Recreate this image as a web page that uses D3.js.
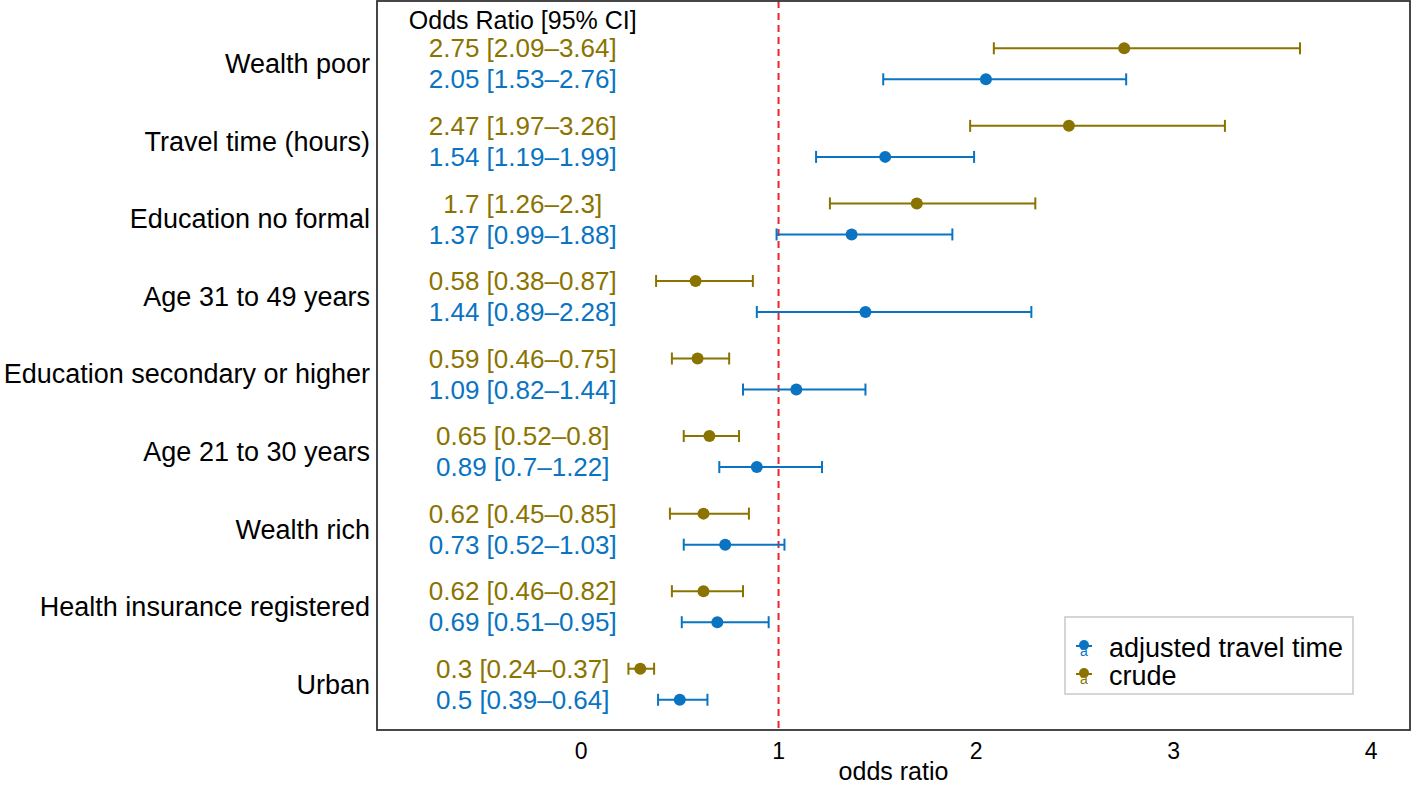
<!DOCTYPE html>
<html><head><meta charset="utf-8">
<script src="https://cdn.jsdelivr.net/npm/d3@7"></script>
<style>body{margin:0;background:#fff}svg{display:block}text{font-family:"Liberation Sans",Arial,sans-serif}</style>
</head><body><svg id="c" width="1420" height="787"></svg>
<script>
const categories = ["Wealth poor","Travel time (hours)","Education no formal","Age 31 to 49 years","Education secondary or higher","Age 21 to 30 years","Wealth rich","Health insurance registered","Urban"];
const crudeOR = [2.75,2.47,1.7,0.58,0.59,0.65,0.62,0.62,0.3];
const crudeLo = [2.09,1.97,1.26,0.38,0.46,0.52,0.45,0.46,0.24];
const crudeHi = [3.64,3.26,2.3,0.87,0.75,0.8,0.85,0.82,0.37];
const adjOR = [2.05,1.54,1.37,1.44,1.09,0.89,0.73,0.69,0.5];
const adjLo = [1.53,1.19,0.99,0.89,0.82,0.7,0.52,0.51,0.39];
const adjHi = [2.76,1.99,1.88,2.28,1.44,1.22,1.03,0.95,0.64];
const crudeLabels = ["2.75 [2.09–3.64]","2.47 [1.97–3.26]","1.7 [1.26–2.3]","0.58 [0.38–0.87]","0.59 [0.46–0.75]","0.65 [0.52–0.8]","0.62 [0.45–0.85]","0.62 [0.46–0.82]","0.3 [0.24–0.37]"];
const adjLabels = ["2.05 [1.53–2.76]","1.54 [1.19–1.99]","1.37 [0.99–1.88]","1.44 [0.89–2.28]","1.09 [0.82–1.44]","0.89 [0.7–1.22]","0.73 [0.52–1.03]","0.69 [0.51–0.95]","0.5 [0.39–0.64]"];
const xTicks = [0,1,2,3,4];
const headerText = "Odds Ratio [95% CI]";
const seriesNames = ["adjusted travel time","crude"];

const COL_CRUDE = "#8B7300", COL_ADJ = "#0A74C2";
const svg = d3.select("#c");
const L = 377, R = 1410, T = 1, B = 730;
const x = d3.scaleLinear().domain([-1.033, 4.197]).range([L, R]);
const y = d3.scaleLinear().domain([-0.81, 8.59]).range([T, B]);
const off = 0.2;
const textX = -0.295;

// dashed reference
svg.append("line").attr("x1", x(1)).attr("x2", x(1)).attr("y1", T).attr("y2", B)
  .attr("stroke", "#e8262b").attr("stroke-width", 2).attr("stroke-dasharray", "7,5");

function series(vals, lo, hi, labels, dy, col) {
  const g = svg.append("g");
  categories.forEach((c, i) => {
    const yy = y(i + dy);
    g.append("line").attr("x1", x(lo[i])).attr("x2", x(hi[i])).attr("y1", yy).attr("y2", yy).attr("stroke", col).attr("stroke-width", 2);
    [lo[i], hi[i]].forEach(v => g.append("line").attr("x1", x(v)).attr("x2", x(v)).attr("y1", yy - 6).attr("y2", yy + 6).attr("stroke", col).attr("stroke-width", 2));
    g.append("circle").attr("cx", x(vals[i])).attr("cy", yy).attr("r", 6).attr("fill", col);
    g.append("text").attr("x", x(textX)).attr("y", yy).attr("dy", "0.35em").attr("text-anchor", "middle")
      .attr("font-size", 26).attr("fill", col).text(labels[i]);
  });
}
series(crudeOR, crudeLo, crudeHi, crudeLabels, -off, COL_CRUDE);
series(adjOR, adjLo, adjHi, adjLabels, off, COL_ADJ);

svg.append("text").attr("x", x(textX)).attr("y", y(-0.56)).attr("dy", "0.35em").attr("text-anchor", "middle")
  .attr("font-size", 25).attr("fill", "#000").text(headerText);

// category labels
svg.append("g").selectAll("text").data(categories).join("text")
  .attr("x", L - 7).attr("y", (d, i) => y(i)).attr("dy", "0.35em").attr("text-anchor", "end")
  .attr("font-size", 27).attr("fill", "#000").text(d => d);

// x axis labels
svg.append("g").selectAll("text").data(xTicks).join("text")
  .attr("x", d => x(d)).attr("y", 751).attr("dy", "0.35em").attr("text-anchor", "middle")
  .attr("font-size", 23).attr("fill", "#000").text(d => d);
svg.append("text").attr("x", (L + R) / 2).attr("y", 771).attr("dy", "0.35em").attr("text-anchor", "middle")
  .attr("font-size", 25).attr("fill", "#000").text("odds ratio");

// frame
svg.append("rect").attr("x", L).attr("y", T).attr("width", R - L).attr("height", B - T)
  .attr("fill", "none").attr("stroke", "#333").attr("stroke-width", 1.8);

// legend
const lg = svg.append("g");
lg.append("rect").attr("x", 1065).attr("y", 617).attr("width", 288).attr("height", 77)
  .attr("fill", "#fff").attr("stroke", "#c8c8c8").attr("stroke-width", 1.5);
[[seriesNames[0], COL_ADJ, 648], [seriesNames[1], COL_CRUDE, 676]].forEach(([n, c, yy]) => {
  lg.append("line").attr("x1", 1076).attr("x2", 1092).attr("y1", yy - 2).attr("y2", yy - 2).attr("stroke", c).attr("stroke-width", 2);
  lg.append("circle").attr("cx", 1084).attr("cy", yy - 3).attr("r", 5).attr("fill", c);
  lg.append("text").attr("x", 1084).attr("y", yy + 8).attr("text-anchor", "middle").attr("font-size", 14).attr("fill", c).text("a");
  lg.append("text").attr("x", 1109).attr("y", yy).attr("dy", "0.35em").attr("font-size", 27).attr("fill", "#000").text(n);
});
</script></body></html>
